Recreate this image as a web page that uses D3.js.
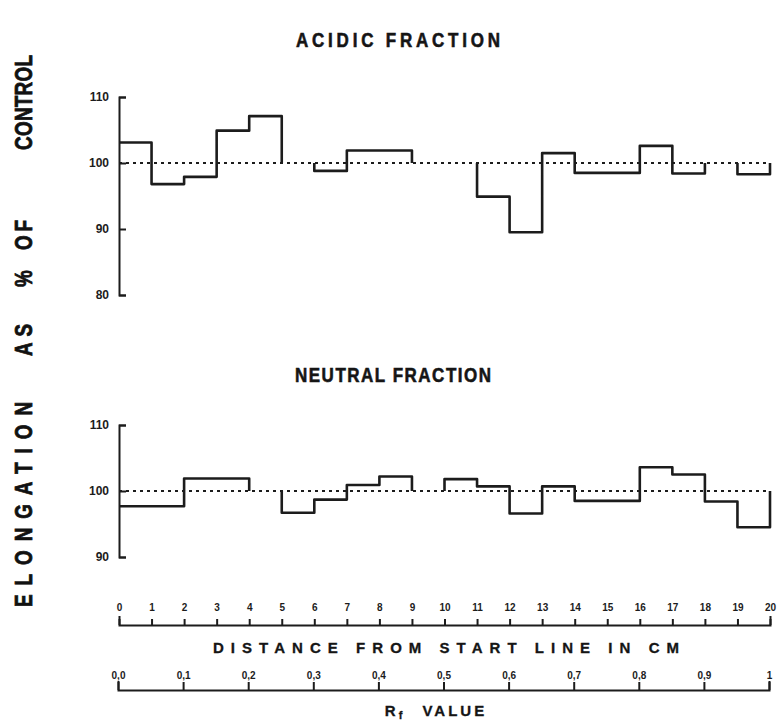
<!DOCTYPE html>
<html lang="en">
<head>
  <meta charset="UTF-8">
  <script src="https://d3js.org/d3.v7.min.js"></script>
  <title>Elongation as % of control</title>
  <style>
    body {
      margin: 0;
      background: #fff;
      font-family: "Liberation Sans", Arial, sans-serif;
    }
    .axis path, .axis line {
      stroke: #1c1c1c;
      stroke-width: 2;
    }
    .axis text {
      fill: #1c1c1c;
      font-weight: bold;
      font-family: "Liberation Sans", Arial, sans-serif;
    }
    .title {
      font-weight: bold;
      font-size: 17px;
      fill: #151515;
      stroke: #151515;
      stroke-width: 0.5px;
    }
  </style>
</head>
<body>
<script>

  // Data: one value per 1 cm strip (null = at control level, no solid line)
  const distTicks = [0, 1, 2, 3, 4, 5, 6, 7, 8, 9, 10, 11, 12, 13, 14, 15, 16, 17, 18, 19, 20];
  const acidicValues = [103.1, 96.8, 97.9, 104.9, 107.1, null, 98.8, 101.9, 101.9, null,
                        null, 94.9, 89.5, 101.5, 98.5, 98.5, 102.6, 98.4, null, 98.3];
  const neutralValues = [97.7, 97.7, 101.9, 101.9, null, 96.7, 98.7, 100.9, 102.2, null,
                         101.8, 100.7, 96.6, 100.7, 98.5, 98.5, 103.6, 102.5, 98.4, 94.5];
  const acidicTicks = [80, 90, 100, 110];
  const neutralTicks = [90, 100, 110];
  const rfTicks = [0, 0.1, 0.2, 0.3, 0.4, 0.5, 0.6, 0.7, 0.8, 0.9, 1];
  const rfLabels = ["0,0", "0,1", "0,2", "0,3", "0,4", "0,5", "0,6", "0,7", "0,8", "0,9", "1"];
  const yLabelWords = ["ELONGATION", "AS", "%", "OF", "CONTROL"];
  const controlLevel = 100;

  const width = 779, height = 721;
  const ink = "#1c1c1c";

  const svg = d3.select("body").append("svg")
    .attr("width", width)
    .attr("height", height);

  // shared horizontal scale (cm from start line)
  const x = d3.scaleLinear().domain([0, 20]).range([119, 770]);
  const xRf = d3.scaleLinear().domain([0, 1]).range([118, 769]);

  function drawPanel(values, yDomain, yRange, ticks, title, titleX, titleY, titleLen) {
    const y = d3.scaleLinear().domain(yDomain).range(yRange);

    // y axis: bracket with inward ticks, labels on the left
    svg.append("g")
      .attr("class", "axis")
      .attr("transform", `translate(${x(0)},0)`)
      .call(d3.axisLeft(y).tickValues(ticks).tickSizeInner(-7).tickSizeOuter(-7).tickPadding(10))
      .selectAll("text")
      .style("font-size", "12px");

    // dotted control line
    svg.append("line")
      .attr("x1", x(0)).attr("x2", x(20))
      .attr("y1", y(controlLevel)).attr("y2", y(controlLevel))
      .attr("stroke", ink)
      .attr("stroke-width", 2)
      .attr("stroke-dasharray", "3,4");

    // step line, broken where value is at control
    const runs = [];
    let cur = null;
    values.forEach((v, i) => {
      if (v == null) { cur = null; return; }
      if (!cur) { cur = []; runs.push(cur); }
      cur.push([i, v]);
    });
    const line = d3.line().x(d => x(d[0])).y(d => y(d[1]));
    runs.forEach(run => {
      const pts = [];
      const first = run[0][0];
      if (first > 0) pts.push([first, controlLevel]);
      run.forEach(([i, v]) => { pts.push([i, v]); pts.push([i + 1, v]); });
      pts.push([run[run.length - 1][0] + 1, controlLevel]);
      svg.append("path")
        .attr("d", line(pts))
        .attr("fill", "none")
        .attr("stroke", ink)
        .attr("stroke-width", 2.6)
        .attr("stroke-linejoin", "round");
    });

    svg.append("text")
      .attr("class", "title")
      .attr("transform", `translate(${titleX - titleLen / 2},${titleY}) scale(1,1.15)`)
      .attr("textLength", titleLen)
      .attr("lengthAdjust", "spacing")
      .text(title);
  }

  drawPanel(acidicValues, [80, 110], [295, 97], acidicTicks, "ACIDIC FRACTION", 398, 47, 204);
  drawPanel(neutralValues, [90, 110], [557, 425], neutralTicks, "NEUTRAL FRACTION", 393, 382, 196);

  // distance axis
  svg.append("g")
    .attr("class", "axis")
    .attr("transform", "translate(0,625)")
    .call(d3.axisTop(x).tickValues(distTicks).tickFormat(d3.format("d")).tickSize(6).tickSizeOuter(9).tickPadding(8))
    .selectAll("text")
    .style("font-size", "10px");

  svg.append("text")
    .attr("class", "title")
    .attr("x", 446 - 233)
    .attr("y", 653)
    .attr("textLength", 466)
    .attr("lengthAdjust", "spacing")
    .style("font-size", "15px")
    .style("stroke-width", "0.3px")
    .text("DISTANCE FROM START LINE IN CM");

  // Rf axis
  svg.append("g")
    .attr("class", "axis")
    .attr("transform", "translate(0,690)")
    .call(d3.axisTop(xRf).tickValues(rfTicks).tickFormat((d, i) => rfLabels[i]).tickSize(8).tickSizeOuter(9).tickPadding(3))
    .selectAll("text")
    .style("font-size", "10px");

  const rf = svg.append("text")
    .attr("class", "title")
    .attr("x", 436)
    .attr("y", 716)
    .attr("text-anchor", "middle")
    .style("font-size", "15px")
    .style("stroke-width", "0.3px")
    .style("letter-spacing", "3px")
    .style("word-spacing", "10px");
  rf.append("tspan").text("R");
  rf.append("tspan").attr("dy", 3).style("font-size", "11px").text("f");
  rf.append("tspan").attr("dy", -3).text(" VALUE");

  // y axis label, word by word (bottom-to-top spans in px); condensed heavy lettering
  const yLabelSpans = [[607, 402], [356, 324], [287, 262], [250, 220], [150, 55]];
  const squeeze = 0.82;
  yLabelWords.forEach((w, i) => {
    const [y0, y1] = yLabelSpans[i];
    svg.append("text")
      .attr("transform", `translate(32,${y0}) rotate(-90) scale(${squeeze},1)`)
      .attr("textLength", (y0 - y1) / squeeze)
      .attr("lengthAdjust", "spacing")
      .style("font-size", "23px")
      .style("font-weight", "bold")
      .attr("fill", "#111")
      .attr("stroke", "#111")
      .attr("stroke-width", 0.8)
      .text(w);
  });

</script>
</body>
</html>
